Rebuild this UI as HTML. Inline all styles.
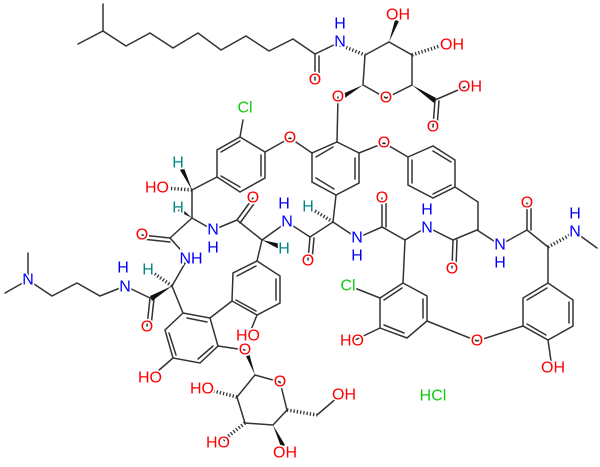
<!DOCTYPE html>
<html><head><meta charset="utf-8"><style>
html,body{margin:0;padding:0;background:#fff;}
svg{display:block}
text{font-family:"Liberation Sans",sans-serif;font-size:16px;text-anchor:middle;dominant-baseline:central;stroke:#fff;stroke-width:3.5px;paint-order:stroke;}
.O{fill:#f00}.N{fill:#00f}.C{fill:#1c1}.H{fill:#088}.K{fill:#1c1}
</style></head><body>
<svg width="600" height="467" viewBox="0 0 600 467" xmlns="http://www.w3.org/2000/svg">
<g stroke="#333" stroke-width="1.5" fill="none" stroke-linecap="round">
<polyline points="78,44 103,31 126,46 150,33 173,48 198,33 221,50 246,36 269,51 293,39 315,54 340,42"/>
<line x1="103" y1="31" x2="103" y2="4"/>
<line x1="315" y1="54" x2="315" y2="80"/><line x1="319" y1="56" x2="319" y2="80"/>
<polyline points="365,55 389,42 412,55 412,85 386,98 363,85 365,55"/>
<line x1="435" y1="100" x2="465" y2="87"/>
<line x1="435" y1="100" x2="433" y2="127"/><line x1="439" y1="101" x2="437" y2="127"/>
<line x1="338" y1="97" x2="337" y2="142"/>
<polygon points="337,142 359,153 359,183 336,195 312,182 312,153"/>
<line x1="355" y1="158" x2="355" y2="179"/><line x1="316" y1="178" x2="334" y2="189"/><line x1="316" y1="157" x2="333" y2="147"/>
<polyline points="359,153 384,143 408,157"/>
<polygon points="408,157 433,146 455,160 455,187 433,198 408,185"/>
<line x1="433" y1="151" x2="451" y2="162"/><line x1="451" y1="185" x2="433" y2="194"/><line x1="412" y1="183" x2="412" y2="160"/>
<polyline points="455,187 478,202 478,230"/>
<polyline points="312,153 290,138 265,152"/>
<polygon points="265,152 265,178 240,192 217,177 217,150 240,137"/>
<line x1="261" y1="155" x2="261" y2="176"/><line x1="240" y1="187" x2="221" y2="176"/><line x1="221" y1="152" x2="240" y2="141"/>
<line x1="240" y1="137" x2="243" y2="120"/>
<polyline points="217,177 192,190 192,218 213,230 237,220 262,240 287,222 310,237 333,222 336,195"/>
<line x1="237" y1="220" x2="253" y2="198"/><line x1="240" y1="223" x2="256" y2="201"/>
<line x1="310" y1="237" x2="308" y2="260"/><line x1="314" y1="238" x2="312" y2="260"/>
<line x1="333" y1="222" x2="357" y2="238"/>
<polyline points="192,218 170,238 188,258 172,286"/>
<line x1="170" y1="238" x2="142" y2="235"/><line x1="170" y1="242" x2="142" y2="239"/>
<line x1="150" y1="298" x2="147" y2="326"/><line x1="154" y1="299" x2="151" y2="326"/>
<polyline points="150,298 125,286 100,296 77,283 52,296 28,280 28,253"/>
<line x1="28" y1="280" x2="5" y2="293"/>
<line x1="172" y1="286" x2="183" y2="313"/>
<polygon points="183,313 210,318 218,346 200,363 173,358 165,330"/>
<line x1="187" y1="318" x2="207" y2="322"/><line x1="213" y1="346" x2="198" y2="359"/><line x1="169" y1="333" x2="176" y2="355"/>
<line x1="173" y1="358" x2="150" y2="378"/>
<line x1="218" y1="346" x2="245" y2="350"/>
<line x1="210" y1="318" x2="232" y2="301"/>
<polygon points="232,301 233,273 257,261 280,276 280,303 257,315"/>
<line x1="237" y1="276" x2="256" y2="266"/><line x1="276" y1="279" x2="276" y2="300"/><line x1="256" y1="311" x2="236" y2="300"/>
<line x1="257" y1="315" x2="249" y2="335"/>
<line x1="257" y1="261" x2="262" y2="240"/>
<polyline points="255,375 280,382 287,410 273,425 245,423 237,397 255,375"/>
<line x1="317" y1="415" x2="338" y2="397"/>
<polyline points="357,238 382,227 405,240 427,227 453,240 477,230 500,245 527,230 548,247"/>
<line x1="382" y1="227" x2="382" y2="198"/><line x1="386" y1="227" x2="386" y2="198"/>
<line x1="453" y1="240" x2="452" y2="268"/><line x1="457" y1="240" x2="456" y2="268"/>
<line x1="527" y1="230" x2="527" y2="203"/><line x1="531" y1="230" x2="531" y2="203"/>
<line x1="575" y1="232" x2="597" y2="248"/>
<line x1="405" y1="240" x2="403" y2="283"/>
<polygon points="403,283 427,296 427,321 407,338 380,328 380,298"/>
<line x1="423" y1="299" x2="423" y2="318"/><line x1="404" y1="333" x2="384" y2="325"/><line x1="384" y1="300" x2="402" y2="288"/>
<line x1="380" y1="298" x2="352" y2="287"/><line x1="380" y1="328" x2="355" y2="340"/>
<polyline points="427,321 477,341 523,326"/>
<polygon points="548,283 573,300 573,326 548,340 523,326 523,298"/>
<line x1="569" y1="302" x2="569" y2="323"/><line x1="546" y1="335" x2="527" y2="324"/><line x1="527" y1="300" x2="547" y2="288"/>
<line x1="548" y1="340" x2="552" y2="368"/>
<line x1="548" y1="247" x2="548" y2="283"/>
</g>
<g stroke="#333" stroke-width="3.5" stroke-dasharray="1.3,2">
<line x1="340" y1="45" x2="365" y2="55"/>
<line x1="412" y1="55" x2="443" y2="45"/>
<line x1="192" y1="190" x2="165" y2="188"/>
<line x1="333" y1="222" x2="310" y2="208"/>
<line x1="172" y1="286" x2="152" y2="272"/>
<line x1="245" y1="423" x2="222" y2="441"/>
<line x1="237" y1="397" x2="210" y2="390"/>
<line x1="287" y1="410" x2="317" y2="415"/>
<line x1="548" y1="247" x2="572" y2="234"/>
</g>
<g fill="#111">
<polygon points="389,42 395,20 399,21"/>
<polygon points="363,85 340,95 342,100"/>
<polygon points="412,85 436,98 434,103"/>
<polygon points="192,190 180,170 184,168"/>
<polygon points="192,218 180,207 178,211"/>
<polygon points="262,240 281,244 279,249"/>
<polygon points="172,286 150,296 152,301"/>
<polygon points="255,375 245,354 249,353"/>
<polygon points="273,425 281,447 285,445"/>
</g>
<text x="340" y="42" class="N">N</text><text x="340" y="24" class="N">H</text>
<text x="315" y="80" class="O">O</text>
<text x="398" y="15" class="O">OH</text>
<text x="452" y="45" class="O">OH</text>
<text x="386" y="98" class="O">O</text>
<text x="338" y="97" class="O">O</text>
<text x="470" y="87" class="O">OH</text>
<text x="433" y="127" class="O">O</text>
<text x="384" y="143" class="O">O</text>
<text x="290" y="138" class="O">O</text>
<text x="245" y="108" class="C">Cl</text>
<text x="178" y="163" class="H">H</text>
<text x="157" y="188" class="O">HO</text>
<text x="178" y="208" class="H">H</text>
<text x="253" y="198" class="O">O</text>
<text x="213" y="230" class="N">N</text><text x="213" y="248" class="N">H</text>
<text x="287" y="222" class="N">N</text><text x="284" y="204" class="N">H</text>
<text x="284" y="249" class="H">H</text>
<text x="308" y="207" class="H">H</text>
<text x="308" y="261" class="O">O</text>
<text x="142" y="235" class="O">O</text>
<text x="191" y="259" class="N">NH</text>
<text x="148" y="270" class="H">H</text>
<text x="147" y="327" class="O">O</text>
<text x="125" y="287" class="N">N</text><text x="123" y="268" class="N">H</text>
<text x="28" y="280" class="N">N</text>
<text x="150" y="378" class="O">HO</text>
<text x="248" y="336" class="O">HO</text>
<text x="245" y="350" class="O">O</text>
<text x="280" y="382" class="O">O</text>
<text x="202" y="389" class="O">HO</text>
<text x="218" y="443" class="O">HO</text>
<text x="285" y="453" class="O">OH</text>
<text x="344" y="395" class="O">OH</text>
<text x="357" y="238" class="N">N</text><text x="357" y="256" class="N">H</text>
<text x="382" y="198" class="O">O</text>
<text x="427" y="228" class="N">N</text><text x="427" y="210" class="N">H</text>
<text x="452" y="269" class="O">O</text>
<text x="500" y="245" class="N">N</text><text x="500" y="263" class="N">H</text>
<text x="527" y="203" class="O">O</text>
<text x="575" y="232" class="N">N</text><text x="575" y="214" class="N">H</text>
<text x="348" y="286" class="C">Cl</text>
<text x="352" y="341" class="O">HO</text>
<text x="477" y="341" class="O">O</text>
<text x="553" y="368" class="O">OH</text>
<text x="433" y="396" class="C">HCl</text>
</svg>
</body></html>
